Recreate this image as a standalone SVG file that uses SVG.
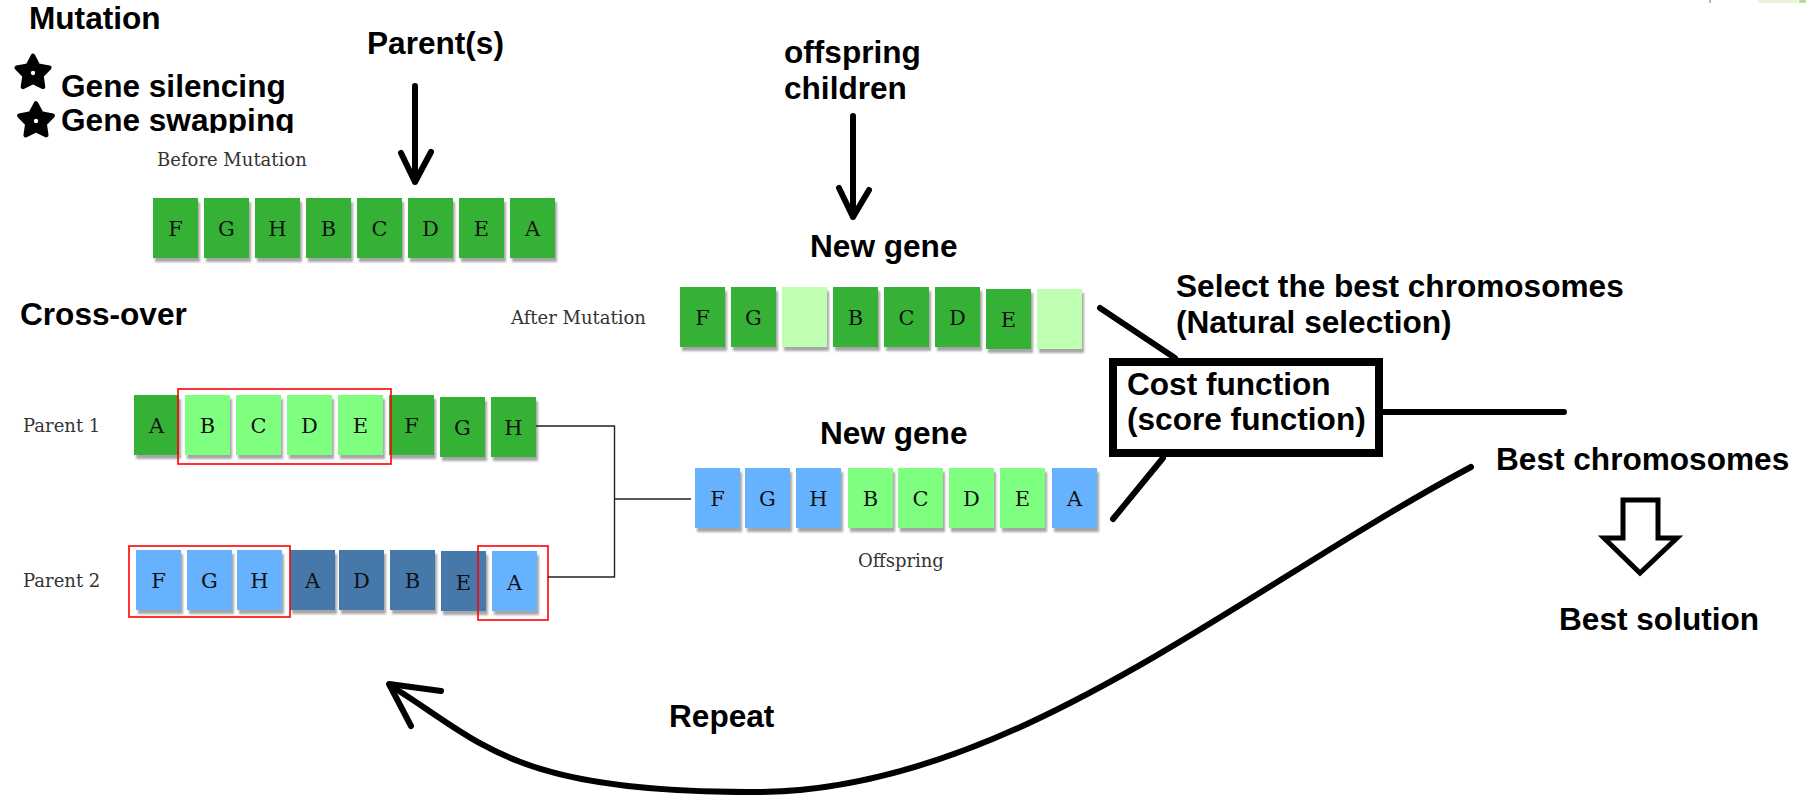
<svg xmlns="http://www.w3.org/2000/svg" width="1806" height="795" viewBox="0 0 1806 795">
<style>
.lbl{font-family:"Liberation Sans",Arial,sans-serif;font-weight:bold;font-size:31.6px;fill:#000}
.ser{font-family:"DejaVu Serif","Liberation Serif",serif;font-size:18px;fill:#333}
.gl{font-family:"DejaVu Serif","Liberation Serif",serif;font-size:21px;fill:#111;text-anchor:middle}
.box{filter:url(#sh)}
.dg{fill:#36B236}.lg{fill:#7FFF7F}.pg{fill:#BFFFB2}.lb{fill:#66B2FF}.db{fill:#4678AA}
.red{fill:none;stroke:#FF0000;stroke-width:1.6}
.thin{fill:none;stroke:#222;stroke-width:1.4}
.thick{fill:none;stroke:#000;stroke-width:6;stroke-linecap:round;stroke-linejoin:round}
</style>
<defs>
<filter id="sh" x="-20%" y="-20%" width="150%" height="150%">
<feDropShadow dx="2" dy="4" stdDeviation="1.2" flood-color="#000" flood-opacity="0.35"/>
</filter>
<clipPath id="clipTop"><rect x="0" y="0" width="400" height="133"/></clipPath>
<polygon id="star" points="0,-16 4.9,-6.8 15.2,-4.9 7.9,2.6 9.4,12.9 0,8.4 -9.4,12.9 -7.9,2.6 -15.2,-4.9 -4.9,-6.8"/>
</defs>
<rect width="1806" height="795" fill="#fff"/>
<g id="corner-marks">
<rect x="1709" y="0" width="2" height="3" fill="#bbb"/>
<rect x="1758" y="0" width="40" height="3" fill="#E8F5D8"/>
<rect x="1799" y="0" width="7" height="3" fill="#B8E090"/>
</g>
<g id="mutation-legend">
<text class="lbl" x="29" y="29">Mutation</text>
<g id="star1" transform="translate(33,73) scale(1.08)"><use href="#star" fill="#000" stroke="#000" stroke-width="4" stroke-linejoin="round"/><circle r="2" fill="#fff"/></g>
<g id="star2" transform="translate(36,121) scale(1.1)"><use href="#star" fill="#000" stroke="#000" stroke-width="4" stroke-linejoin="round"/><circle r="2" fill="#fff"/></g>
<text class="lbl" x="61" y="97">Gene silencing</text>
<text class="lbl" x="61" y="131" clip-path="url(#clipTop)">Gene swapping</text>
</g>
<g id="parents-label"><text class="lbl" x="367" y="54">Parent(s)</text></g>
<g id="offspring-label"><text class="lbl" x="784" y="63">offspring</text><text class="lbl" x="784" y="99">children</text></g>
<g id="crossover-label"><text class="lbl" x="20" y="325">Cross-over</text></g>
<g id="newgene1-label"><text class="lbl" x="810" y="257">New gene</text></g>
<g id="newgene2-label"><text class="lbl" x="820" y="444">New gene</text></g>
<g id="select-label"><text class="lbl" x="1176" y="297">Select the best chromosomes</text><text class="lbl" x="1176" y="333">(Natural selection)</text></g>
<g id="cost-function">
<rect x="1113" y="362" width="266" height="91" fill="#fff" stroke="#000" stroke-width="8"/>
<text class="lbl" x="1127" y="395">Cost function</text>
<text class="lbl" x="1127" y="430">(score function)</text>
</g>
<g id="best-chromosomes"><text class="lbl" x="1496" y="470">Best chromosomes</text></g>
<g id="best-solution"><text class="lbl" x="1559" y="630">Best solution</text></g>
<g id="repeat-label"><text class="lbl" x="669" y="727">Repeat</text></g>

<g id="before-mutation">
<text class="ser" x="157" y="166">Before Mutation</text>
<g class="box"><rect class="dg" x="153" y="198" width="45" height="60"/><rect class="dg" x="204" y="198" width="45" height="60"/><rect class="dg" x="255" y="198" width="45" height="60"/><rect class="dg" x="306" y="198" width="45" height="60"/><rect class="dg" x="357" y="198" width="45" height="60"/><rect class="dg" x="408" y="198" width="45" height="60"/><rect class="dg" x="459" y="198" width="45" height="60"/><rect class="dg" x="510" y="198" width="45" height="60"/></g>
<text class="gl" y="236"><tspan x="175.5">F</tspan><tspan x="226.5">G</tspan><tspan x="277.5">H</tspan><tspan x="328.5">B</tspan><tspan x="379.5">C</tspan><tspan x="430.5">D</tspan><tspan x="481.5">E</tspan><tspan x="532.5">A</tspan></text>
</g>

<g id="after-mutation">
<text class="ser" x="511" y="324">After Mutation</text>
<g class="box"><rect class="dg" x="680" y="287" width="45" height="60"/><rect class="dg" x="731" y="287" width="45" height="60"/><rect class="pg" x="782" y="287" width="45" height="60"/><rect class="dg" x="833" y="287" width="45" height="60"/><rect class="dg" x="884" y="287" width="45" height="60"/><rect class="dg" x="935" y="287" width="45" height="60"/><rect class="dg" x="986" y="289" width="45" height="60"/><rect class="pg" x="1037" y="289" width="45" height="60"/></g>
<text class="gl" y="325"><tspan x="702.5">F</tspan><tspan x="753.5">G</tspan><tspan x="855.5">B</tspan><tspan x="906.5">C</tspan><tspan x="957.5">D</tspan><tspan x="1008.5" y="327">E</tspan></text>
</g>

<g id="parent1">
<text class="ser" x="23" y="432">Parent 1</text>
<g class="box"><rect class="dg" x="134" y="395" width="45" height="60"/><rect class="lg" x="185" y="395" width="45" height="60"/><rect class="lg" x="236" y="395" width="45" height="60"/><rect class="lg" x="287" y="395" width="45" height="60"/><rect class="lg" x="338" y="395" width="45" height="60"/><rect class="dg" x="389" y="395" width="45" height="60"/><rect class="dg" x="440" y="397" width="45" height="60"/><rect class="dg" x="491" y="397" width="45" height="60"/></g>
<text class="gl" y="433"><tspan x="156.5">A</tspan><tspan x="207.5">B</tspan><tspan x="258.5">C</tspan><tspan x="309.5">D</tspan><tspan x="360.5">E</tspan><tspan x="411.5">F</tspan><tspan x="462.5" y="435">G</tspan><tspan x="513.5">H</tspan></text>
<rect class="red" x="178" y="389" width="213" height="75"/>
</g>

<g id="parent2">
<text class="ser" x="23" y="587">Parent 2</text>
<g class="box"><rect class="lb" x="136" y="550" width="45" height="60"/><rect class="lb" x="187" y="550" width="45" height="60"/><rect class="lb" x="237" y="550" width="45" height="60"/><rect class="db" x="290" y="550" width="45" height="60"/><rect class="db" x="339" y="550" width="45" height="60"/><rect class="db" x="390" y="550" width="45" height="60"/><rect class="db" x="441" y="551" width="45" height="60"/><rect class="lb" x="492" y="551" width="45" height="60"/></g>
<text class="gl" y="588"><tspan x="158.5">F</tspan><tspan x="209.5">G</tspan><tspan x="259.5">H</tspan><tspan x="312.5">A</tspan><tspan x="361.5">D</tspan><tspan x="412.5">B</tspan><tspan x="463.5" y="590">E</tspan><tspan x="514.5">A</tspan></text>
<rect class="red" x="129" y="546" width="161" height="71"/>
<rect class="red" x="478" y="546" width="70" height="74"/>
</g>

<g id="offspring">
<g class="box"><rect class="lb" x="695" y="468" width="45" height="60"/><rect class="lb" x="745" y="468" width="45" height="60"/><rect class="lb" x="796" y="468" width="45" height="60"/><rect class="lg" x="848" y="468" width="45" height="60"/><rect class="lg" x="898" y="468" width="45" height="60"/><rect class="lg" x="949" y="468" width="45" height="60"/><rect class="lg" x="1000" y="468" width="45" height="60"/><rect class="lb" x="1052" y="468" width="45" height="60"/></g>
<text class="gl" y="506"><tspan x="717.5">F</tspan><tspan x="767.5">G</tspan><tspan x="818.5">H</tspan><tspan x="870.5">B</tspan><tspan x="920.5">C</tspan><tspan x="971.5">D</tspan><tspan x="1022.5">E</tspan><tspan x="1074.5">A</tspan></text>
<text class="ser" x="901" y="567" text-anchor="middle">Offspring</text>
</g>

<g id="connectors">
<path class="thin" d="M536 426 H614.5 V577 H548 M614.5 499 H691"/>
<path class="thick" d="M415 86 V182 M401 153 L415 182 L431 152"/>
<path class="thick" d="M853 116 V217 M839 188 L853 217 L869 190"/>
<path class="thick" d="M1100 308 L1175 358"/>
<path class="thick" d="M1113 519 L1163 458"/>
<path class="thick" d="M1383 412 H1564"/>
<polygon points="1623,500 1658,500 1658,538 1677,538 1640,573 1604,538 1623,538" fill="#fff" stroke="#000" stroke-width="5"/>
<path class="thick" stroke-width="6.5" d="M1471 467 C1240 590 1010 790 760 792 S480 740 391 686"/>
<path class="thick" d="M441 691 L389 684 L411 726"/>
</g>
</svg>
